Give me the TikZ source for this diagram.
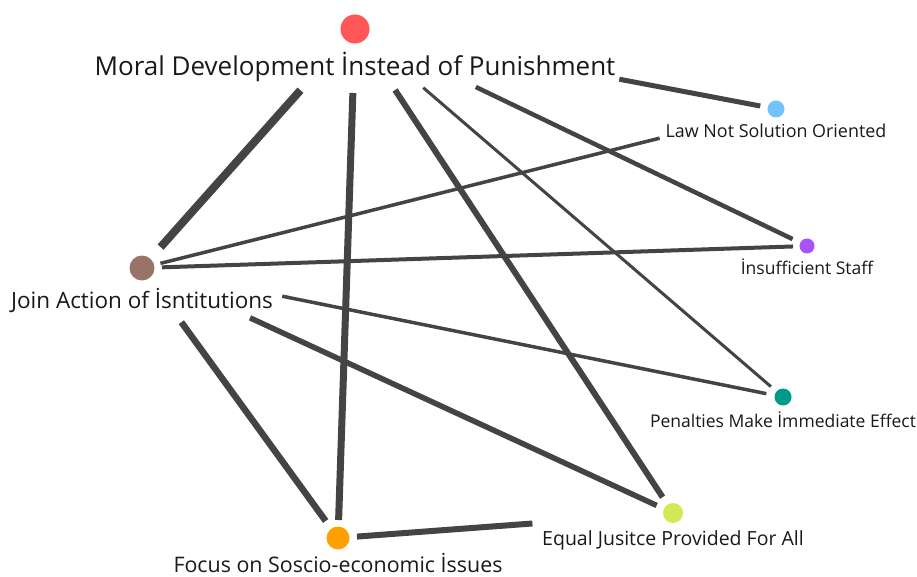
\documentclass[tikz,border=0pt]{standalone}
\usepackage{fontspec}
\setmainfont{Open Sans}
\definecolor{cM}{HTML}{FF5757}
\definecolor{cL}{HTML}{72C2FC}
\definecolor{cI}{HTML}{A952F5}
\definecolor{cJ}{HTML}{987468}
\definecolor{cP}{HTML}{009A88}
\definecolor{cE}{HTML}{D5E85A}
\definecolor{cF}{HTML}{FFA000}
\definecolor{edgec}{HTML}{444444}
\tikzset{
  dot/.style={circle, inner sep=0pt, outer sep=0pt, draw=none},
  lab/.style={anchor=base, inner sep=0pt, outer sep=0pt, text=black!90},
  edge/.style={draw=edgec, line cap=butt}
}
\begin{document}
\begin{tikzpicture}[x=1pt, y=-1pt]
\useasboundingbox (0,0) rectangle (917,577);
% nodes
\node[dot, fill=cM, minimum size=29pt] (M) at (355,29) {};
\node[dot, fill=cL, minimum size=17pt] (L) at (776,109) {};
\node[dot, fill=cI, minimum size=15pt] (I) at (807,246) {};
\node[dot, fill=cJ, minimum size=25pt] (J) at (142,268) {};
\node[dot, fill=cP, minimum size=17pt] (P) at (783,397) {};
\node[dot, fill=cE, minimum size=20pt] (E) at (673,513) {};
\node[dot, fill=cF, minimum size=23pt] (F) at (338,538) {};
% labels
\node[lab, font=\fontsize{26}{30}\selectfont] (Mt) at (355,76) {Moral Development İnstead of Punishment};
\node[lab, font=\fontsize{17.9}{21}\selectfont] (Lt) at (776,138) {Law Not Solution Oriented};
\node[lab, font=\fontsize{17.5}{21}\selectfont] (It) at (807,274) {İnsufficient Staff};
\node[lab, font=\fontsize{22.5}{26}\selectfont] (Jt) at (142,308) {Join Action of İsntitutions};
\node[lab, font=\fontsize{17.5}{21}\selectfont] (Pt) at (783,427) {Penalties Make İmmediate Effect};
\node[lab, font=\fontsize{19.5}{23}\selectfont] (Et) at (673,545) {Equal Jusitce Provided For All};
\node[lab, font=\fontsize{21.4}{25}\selectfont] (Ft) at (338,572) {Focus on Soscio-economic İssues};
% edges
\draw[edge, line width=5pt, shorten <=269pt, shorten >=16pt] (M.center) -- (L.center);
\draw[edge, line width=8pt, shorten <=82pt, shorten >=28pt] (M.center) -- (J.center);
\draw[edge, line width=7pt, shorten <=64pt, shorten >=18pt] (M.center) -- (F.center);
\draw[edge, line width=6pt, shorten <=73pt, shorten >=19pt] (M.center) -- (E.center);
\draw[edge, line width=3pt, shorten <=90pt, shorten >=16pt] (M.center) -- (P.center);
\draw[edge, line width=4.5pt, shorten <=134pt, shorten >=16pt] (M.center) -- (I.center);
\draw[edge, line width=3.5pt, shorten <=19pt, shorten >=120pt] (J.center) -- (L.center);
\draw[edge, line width=4pt, shorten <=20pt, shorten >=14pt] (J.center) -- (I.center);
\draw[edge, line width=3.5pt, shorten <=143pt, shorten >=17pt] (J.center) -- (P.center);
\draw[edge, line width=5.5pt, shorten <=119pt, shorten >=18pt] (J.center) -- (E.center);
\draw[edge, line width=6.5pt, shorten <=67pt, shorten >=21pt] (J.center) -- (F.center);
\draw[edge, line width=6pt, shorten <=19pt, shorten >=141pt] (F.center) -- (E.center);
\end{tikzpicture}
\end{document}
